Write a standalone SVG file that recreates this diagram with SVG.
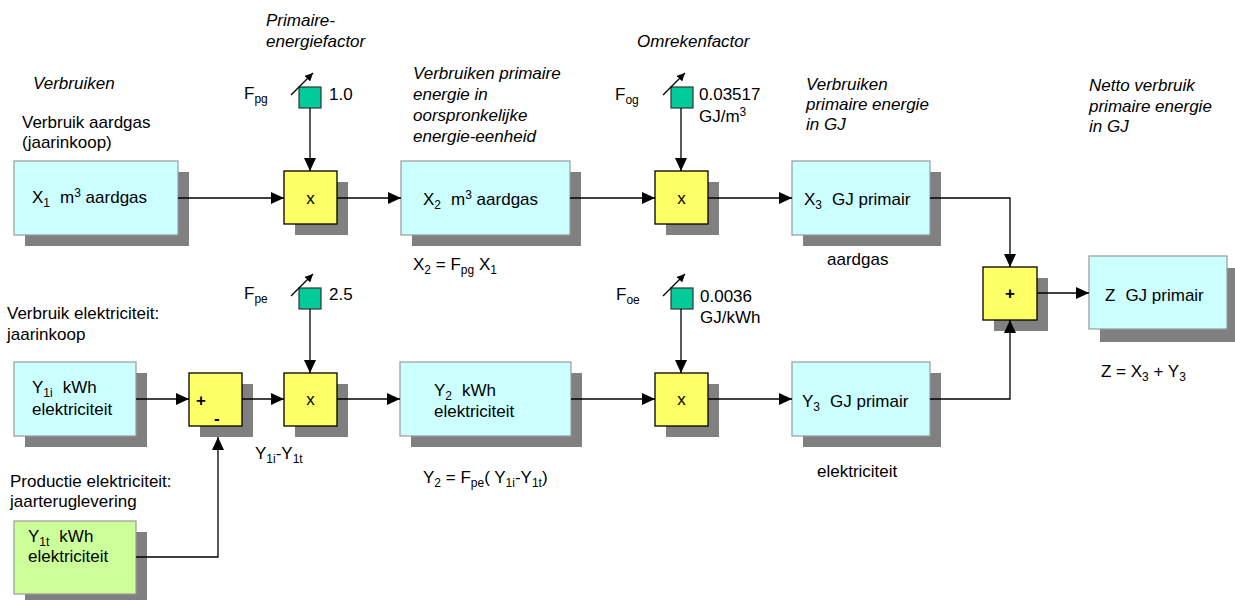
<svg xmlns="http://www.w3.org/2000/svg" width="1235" height="600" viewBox="0 0 1235 600">
<style>
text{font-family:"Liberation Sans",Arial,sans-serif;font-size:17px;fill:#000}
.it{font-style:italic}
.sh{fill:#808080}
.cy{fill:#CCFFFF;stroke:#999;stroke-width:1.2}
.gr{fill:#CCFF99;stroke:#999;stroke-width:1.2}
.ye{fill:#FFFF66;stroke:#000;stroke-width:1.3}
.gs{fill:#00CC99;stroke:#333;stroke-width:1.2}
.op{font-size:17px;text-anchor:middle}
.b{font-weight:bold}
.ln{fill:none;stroke:#000;stroke-width:1.3}
.sub{font-size:12px}
</style>
<defs>
<marker id="ah" markerUnits="userSpaceOnUse" markerWidth="13" markerHeight="12" refX="13" refY="6" orient="auto">
<path d="M0,0 L13,6 L0,12 Z" fill="#000"/>
</marker>
<marker id="sa" markerUnits="userSpaceOnUse" markerWidth="8" markerHeight="8" refX="8" refY="4" orient="auto">
<path d="M0,0 L8,4 L0,8 Z" fill="#000"/>
</marker>
</defs>

<g id="labels">
<text class="it" x="33" y="89">Verbruiken</text>
<text x="22" y="128">Verbruik aardgas</text>
<text x="22" y="148">(jaarinkoop)</text>
<text class="it" x="266" y="26">Primaire-</text>
<text class="it" x="266" y="47">energiefactor</text>
<text class="it" x="413" y="79">Verbruiken primaire</text>
<text class="it" x="413" y="100">energie in</text>
<text class="it" x="413" y="121">oorspronkelijke</text>
<text class="it" x="413" y="142">energie-eenheid</text>
<text class="it" x="637" y="47">Omrekenfactor</text>
<text class="it" x="806" y="90">Verbruiken</text>
<text class="it" x="806" y="110">primaire energie</text>
<text class="it" x="806" y="130">in GJ</text>
<text class="it" x="1089" y="91">Netto verbruik</text>
<text class="it" x="1089" y="112">primaire energie</text>
<text class="it" x="1089" y="132">in GJ</text>
<text x="413" y="270">X<tspan class="sub" dy="4">2</tspan><tspan dy="-4"> = F</tspan><tspan class="sub" dy="4">pg</tspan><tspan dy="-4"> X</tspan><tspan class="sub" dy="4">1</tspan></text>
<text x="827" y="265">aardgas</text>
<text x="7" y="319">Verbruik elektriciteit:</text>
<text x="7" y="340">jaarinkoop</text>
<text x="255" y="459">Y<tspan class="sub" dy="4">1i</tspan><tspan dy="-4">-Y</tspan><tspan class="sub" dy="4">1t</tspan></text>
<text x="423" y="483">Y<tspan class="sub" dy="4">2</tspan><tspan dy="-4"> = F</tspan><tspan class="sub" dy="4">pe</tspan><tspan dy="-4">( Y</tspan><tspan class="sub" dy="4">1i</tspan><tspan dy="-4">-Y</tspan><tspan class="sub" dy="4">1t</tspan><tspan dy="-4">)</tspan></text>
<text x="817" y="477">elektriciteit</text>
<text x="1101" y="377">Z = X<tspan class="sub" dy="4">3</tspan><tspan dy="-4"> + Y</tspan><tspan class="sub" dy="4">3</tspan></text>
<text x="10" y="487">Productie elektriciteit:</text>
<text x="10" y="507">jaarteruglevering</text>
</g>

<g id="factor-pg">
<rect class="gs" x="299" y="87" width="22" height="21"/>
<path class="ln" d="M291,95 L313,73" marker-end="url(#sa)"/>
<text x="244" y="99">F<tspan class="sub" dy="4">pg</tspan></text>
<text x="329" y="100">1.0</text>
</g>
<g id="factor-og">
<rect class="gs" x="671" y="87" width="22" height="21"/>
<path class="ln" d="M663,95 L685,73" marker-end="url(#sa)"/>
<text x="615" y="100">F<tspan class="sub" dy="4">og</tspan></text>
<text x="699" y="100">0.03517</text>
<text x="699" y="122">GJ/m<tspan class="sub" dy="-6">3</tspan></text>
</g>
<g id="factor-pe">
<rect class="gs" x="299" y="288" width="22" height="21"/>
<path class="ln" d="M291,296 L313,274" marker-end="url(#sa)"/>
<text x="244" y="299">F<tspan class="sub" dy="4">pe</tspan></text>
<text x="329" y="300">2.5</text>
</g>
<g id="factor-oe">
<rect class="gs" x="671" y="288" width="22" height="21"/>
<path class="ln" d="M663,296 L685,274" marker-end="url(#sa)"/>
<text x="616" y="300">F<tspan class="sub" dy="4">oe</tspan></text>
<text x="700" y="302">0.0036</text>
<text x="700" y="323">GJ/kWh</text>
</g>

<g id="x1">
<rect class="sh" x="25" y="172" width="164" height="74"/>
<rect class="cy" x="14" y="161" width="164" height="74"/>
<text x="32" y="203">X<tspan class="sub" dy="4">1</tspan><tspan dy="-4" dx="10">m</tspan><tspan class="sub" dy="-6">3</tspan><tspan dy="6"> aardgas</tspan></text>
</g>
<g id="mul1">
<rect class="sh" x="295" y="182" width="53" height="53"/>
<rect class="ye" x="284" y="171" width="53" height="53"/>
<text class="op" x="310.5" y="204">x</text>
</g>
<g id="x2">
<rect class="sh" x="412" y="172" width="169" height="74"/>
<rect class="cy" x="401" y="161" width="169" height="74"/>
<text x="423" y="205">X<tspan class="sub" dy="4">2</tspan><tspan dy="-4" dx="10">m</tspan><tspan class="sub" dy="-6">3</tspan><tspan dy="6"> aardgas</tspan></text>
</g>
<g id="mul2">
<rect class="sh" x="666" y="182" width="53" height="53"/>
<rect class="ye" x="655" y="171" width="53" height="53"/>
<text class="op" x="681.5" y="204">x</text>
</g>
<g id="x3">
<rect class="sh" x="803" y="172" width="138" height="74"/>
<rect class="cy" x="792" y="161" width="138" height="74"/>
<text x="804" y="205">X<tspan class="sub" dy="4">3</tspan><tspan dy="-4" dx="10">GJ primair</tspan></text>
</g>
<g id="sum">
<rect class="sh" x="994" y="278" width="54" height="53"/>
<rect class="ye" x="983" y="267" width="54" height="53"/>
<text class="op b" x="1010" y="299">+</text>
</g>
<g id="z">
<rect class="sh" x="1100" y="268" width="138" height="74"/>
<rect class="cy" x="1089" y="256" width="138" height="73"/>
<text x="1105" y="301">Z<tspan dx="10">GJ primair</tspan></text>
</g>
<g id="y1i">
<rect class="sh" x="25" y="373" width="122" height="74"/>
<rect class="cy" x="14" y="362" width="122" height="74"/>
<text x="32" y="393">Y<tspan class="sub" dy="4">1i</tspan><tspan dy="-4" dx="10">kWh</tspan></text>
<text x="32" y="415">elektriciteit</text>
</g>
<g id="diff">
<rect class="sh" x="200" y="384" width="53" height="53"/>
<rect class="ye" x="189" y="373" width="53" height="53"/>
<text class="b" x="196" y="406">+</text>
<text class="b" x="214" y="424">-</text>
</g>
<g id="mul3">
<rect class="sh" x="295" y="384" width="53" height="53"/>
<rect class="ye" x="284" y="373" width="53" height="53"/>
<text class="op" x="310.5" y="405">x</text>
</g>
<g id="y2">
<rect class="sh" x="411" y="373" width="171" height="74"/>
<rect class="cy" x="400" y="362" width="171" height="74"/>
<text x="434" y="396">Y<tspan class="sub" dy="4">2</tspan><tspan dy="-4" dx="10">kWh</tspan></text>
<text x="434" y="417">elektriciteit</text>
</g>
<g id="mul4">
<rect class="sh" x="666" y="384" width="53" height="53"/>
<rect class="ye" x="655" y="373" width="53" height="53"/>
<text class="op" x="681.5" y="405">x</text>
</g>
<g id="y3">
<rect class="sh" x="803" y="373" width="138" height="74"/>
<rect class="cy" x="792" y="362" width="138" height="74"/>
<text x="802" y="407">Y<tspan class="sub" dy="4">3</tspan><tspan dy="-4" dx="10">GJ primair</tspan></text>
</g>
<g id="y1t">
<rect class="sh" x="25" y="532" width="122" height="73"/>
<rect class="gr" x="14" y="521" width="122" height="73"/>
<text x="28" y="542">Y<tspan class="sub" dy="4">1t</tspan><tspan dy="-4" dx="10">kWh</tspan></text>
<text x="28" y="562">elektriciteit</text>
</g>

<g id="connectors">
<path class="ln" d="M178,198 H284" marker-end="url(#ah)"/>
<path class="ln" d="M337,198 H401" marker-end="url(#ah)"/>
<path class="ln" d="M570,198 H655" marker-end="url(#ah)"/>
<path class="ln" d="M708,198 H792" marker-end="url(#ah)"/>
<path class="ln" d="M930,198 H1010 V267" marker-end="url(#ah)"/>
<path class="ln" d="M310,108 V171" marker-end="url(#ah)"/>
<path class="ln" d="M681,108 V171" marker-end="url(#ah)"/>
<path class="ln" d="M136,399 H189" marker-end="url(#ah)"/>
<path class="ln" d="M242,399 H284" marker-end="url(#ah)"/>
<path class="ln" d="M337,399 H400" marker-end="url(#ah)"/>
<path class="ln" d="M571,399 H655" marker-end="url(#ah)"/>
<path class="ln" d="M708,399 H792" marker-end="url(#ah)"/>
<path class="ln" d="M930,399 H1010 V320" marker-end="url(#ah)"/>
<path class="ln" d="M136,557 H218 V437" marker-end="url(#ah)"/>
<path class="ln" d="M310,309 V373" marker-end="url(#ah)"/>
<path class="ln" d="M681,309 V373" marker-end="url(#ah)"/>
<path class="ln" d="M1037,293 H1089" marker-end="url(#ah)"/>
</g>
</svg>
